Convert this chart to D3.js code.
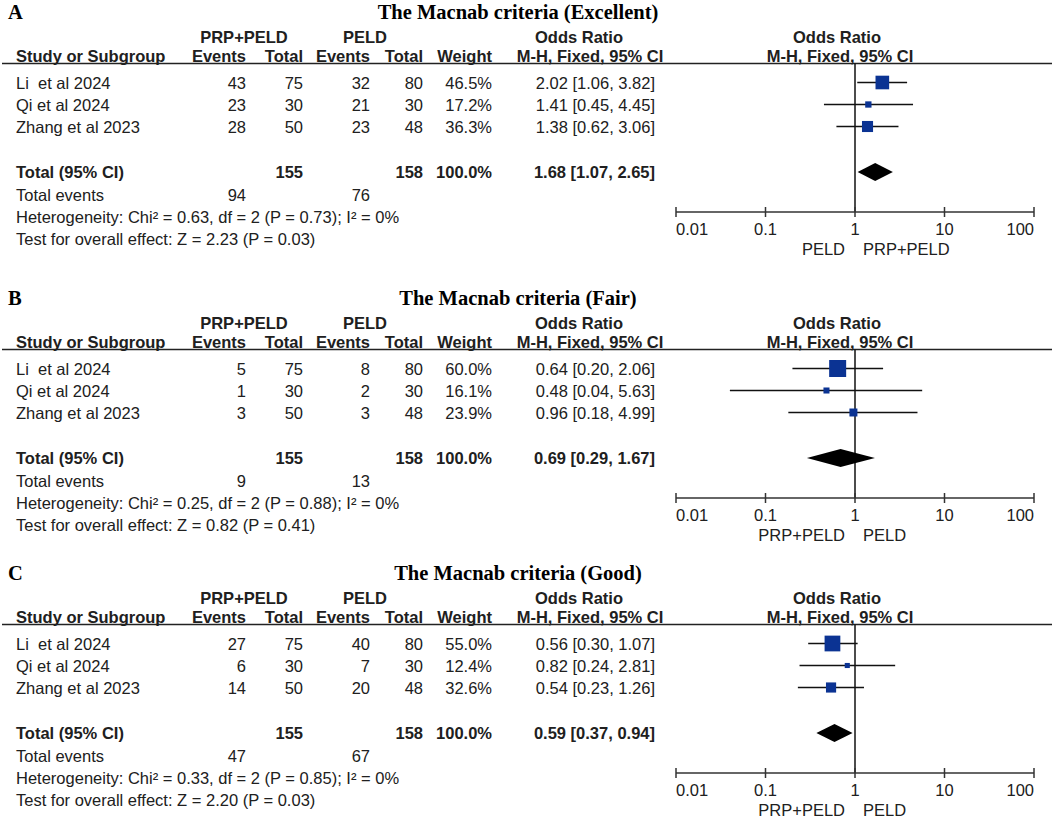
<!DOCTYPE html>
<html>
<head>
<meta charset="utf-8">
<script src="https://cdn.jsdelivr.net/npm/d3@7/dist/d3.min.js"></script>
<style>
  body { margin: 0; background: #fff; }
  svg text { font-family: Arial, "Liberation Sans", sans-serif; font-size: 16.5px; fill: #202020; white-space: pre; }
  .serif { font-family: "Times New Roman", "Liberation Serif", serif; font-weight: bold; font-size: 20.5px; fill: #000; }
  .bold { font-weight: bold; }
</style>
</head>
<body>
<svg width="1052" height="818"></svg>
<script>
// data
const panelLetters = ["A", "B", "C"];
const panelTitles = ["The Macnab criteria (Excellent)", "The Macnab criteria (Fair)", "The Macnab criteria (Good)"];
const studies = ["Li  et al 2024", "Qi et al 2024", "Zhang et al 2023"];
const expEvents = [[43, 23, 28], [5, 1, 3], [27, 6, 14]];
const expTotal = [75, 30, 50];
const ctlEvents = [[32, 21, 23], [8, 2, 3], [40, 7, 20]];
const ctlTotal = [80, 30, 48];
const weights = [[46.5, 17.2, 36.3], [60.0, 16.1, 23.9], [55.0, 12.4, 32.6]];
const orValues = [[2.02, 1.41, 1.38], [0.64, 0.48, 0.96], [0.56, 0.82, 0.54]];
const ciLow = [[1.06, 0.45, 0.62], [0.20, 0.04, 0.18], [0.30, 0.24, 0.23]];
const ciHigh = [[3.82, 4.45, 3.06], [2.06, 5.63, 4.99], [1.07, 2.81, 1.26]];
const totalOR = [1.68, 0.69, 0.59];
const totalLow = [1.07, 0.29, 0.37];
const totalHigh = [2.65, 1.67, 0.94];
const totalN = [155, 158];
const totalEvents = [[94, 76], [9, 13], [47, 67]];
const heterogeneity = [
    "Heterogeneity: Chi² = 0.63, df = 2 (P = 0.73); I² = 0%",
    "Heterogeneity: Chi² = 0.25, df = 2 (P = 0.88); I² = 0%",
    "Heterogeneity: Chi² = 0.33, df = 2 (P = 0.85); I² = 0%"];
const overallEffect = [
    "Test for overall effect: Z = 2.23 (P = 0.03)",
    "Test for overall effect: Z = 0.82 (P = 0.41)",
    "Test for overall effect: Z = 2.20 (P = 0.03)"];
const favourLabels = [["PELD", "PRP+PELD"], ["PRP+PELD", "PELD"], ["PRP+PELD", "PELD"]];
const tickValues = [0.01, 0.1, 1, 10, 100];
const tickLabels = ["0.01", "0.1", "1", "10", "100"];

const panelTop = [12, 298, 573];
const navy = "#0b3393";

const svg = d3.select("svg");
const x = d3.scaleLog().domain([0.01, 100]).range([676, 1034]);
const boxSize = d3.scaleLinear().domain([0, 60]).range([2, 17]);
const f2 = d3.format(".2f");
const f1 = d3.format(".1f");

// column right edges
const colExpEv = 246, colExpTot = 303, colCtlEv = 370, colCtlTot = 423, colWeight = 492, colOR = 655;

function txt(g, xx, yy, s, anchor, cls) {
    return g.append("text")
        .attr("x", xx).attr("y", yy)
        .attr("text-anchor", anchor || "start")
        .attr("class", cls || null)
        .text(s);
}

panelTop.forEach((T, p) => {
    const g = svg.append("g").attr("transform", `translate(0,${T})`);

    // title + letter
    txt(g, 8, 7, panelLetters[p], "start", "serif");
    txt(g, 518, 7, panelTitles[p], "middle", "serif");

    // group headers
    txt(g, 244, 31, "PRP+PELD", "middle", "bold");
    txt(g, 365, 31, "PELD", "middle", "bold");
    txt(g, 579, 31, "Odds Ratio", "middle", "bold");
    txt(g, 837, 31, "Odds Ratio", "middle", "bold");

    // column headers
    txt(g, 16, 50, "Study or Subgroup", "start", "bold");
    txt(g, colExpEv, 50, "Events", "end", "bold");
    txt(g, colExpTot, 50, "Total", "end", "bold");
    txt(g, colCtlEv, 50, "Events", "end", "bold");
    txt(g, colCtlTot, 50, "Total", "end", "bold");
    txt(g, colWeight, 50, "Weight", "end", "bold");
    txt(g, 590, 50, "M-H, Fixed, 95% CI", "middle", "bold");
    txt(g, 840, 50, "M-H, Fixed, 95% CI", "middle", "bold");

    g.append("line")
        .attr("x1", 2).attr("x2", 1052)
        .attr("y1", 51.5).attr("y2", 51.5)
        .attr("stroke", "#222").attr("stroke-width", 1.6);

    const axisY = 200;

    // null line
    g.append("line")
        .attr("x1", x(1)).attr("x2", x(1))
        .attr("y1", 51.5).attr("y2", axisY)
        .attr("stroke", "#111").attr("stroke-width", 1.5);

    // study rows
    studies.forEach((s, i) => {
        const cy = 70.5 + i * 22;
        const by = cy + 6;
        txt(g, 16, by, s);
        txt(g, colExpEv, by, expEvents[p][i], "end");
        txt(g, colExpTot, by, expTotal[i], "end");
        txt(g, colCtlEv, by, ctlEvents[p][i], "end");
        txt(g, colCtlTot, by, ctlTotal[i], "end");
        txt(g, colWeight, by, f1(weights[p][i]) + "%", "end");
        txt(g, colOR, by, `${f2(orValues[p][i])} [${f2(ciLow[p][i])}, ${f2(ciHigh[p][i])}]`, "end");

        g.append("line")
            .attr("x1", x(ciLow[p][i])).attr("x2", x(ciHigh[p][i]))
            .attr("y1", cy).attr("y2", cy)
            .attr("stroke", "#111").attr("stroke-width", 1.5);
        const sz = boxSize(weights[p][i]);
        g.append("rect")
            .attr("x", x(orValues[p][i]) - sz / 2).attr("y", cy - sz / 2)
            .attr("width", sz).attr("height", sz)
            .attr("fill", navy);
    });

    // total row
    const ty = 160;
    txt(g, 16, ty + 6, "Total (95% CI)", "start", "bold");
    txt(g, colExpTot, ty + 6, totalN[0], "end", "bold");
    txt(g, colCtlTot, ty + 6, totalN[1], "end", "bold");
    txt(g, colWeight, ty + 6, "100.0%", "end", "bold");
    txt(g, colOR, ty + 6, `${f2(totalOR[p])} [${f2(totalLow[p])}, ${f2(totalHigh[p])}]`, "end", "bold");

    g.append("polygon")
        .attr("points", [
            [x(totalLow[p]), ty], [x(totalOR[p]), ty - 9],
            [x(totalHigh[p]), ty], [x(totalOR[p]), ty + 9]
        ].map(d => d.join(",")).join(" "))
        .attr("fill", "#000");

    txt(g, 16, 189, "Total events");
    txt(g, colExpEv, 189, totalEvents[p][0], "end");
    txt(g, colCtlEv, 189, totalEvents[p][1], "end");
    txt(g, 16, 211, heterogeneity[p]);
    txt(g, 16, 233, overallEffect[p]);

    // axis
    g.append("line")
        .attr("x1", x(0.01)).attr("x2", x(100))
        .attr("y1", axisY).attr("y2", axisY)
        .attr("stroke", "#333").attr("stroke-width", 1.5);
    g.selectAll(".tick")
        .data(tickValues)
        .enter().append("line")
        .attr("x1", d => x(d)).attr("x2", d => x(d))
        .attr("y1", axisY - 5).attr("y2", axisY + 5)
        .attr("stroke", "#333").attr("stroke-width", 1.5);
    tickValues.forEach((v, k) => {
        const anchor = k === 0 ? "start" : (k === tickValues.length - 1 ? "end" : "middle");
        txt(g, x(v), axisY + 22.5, tickLabels[k], anchor);
    });

    txt(g, x(1) - 10, axisY + 43, favourLabels[p][0], "end");
    txt(g, x(1) + 8, axisY + 43, favourLabels[p][1], "start");
});
</script>
</body>
</html>
